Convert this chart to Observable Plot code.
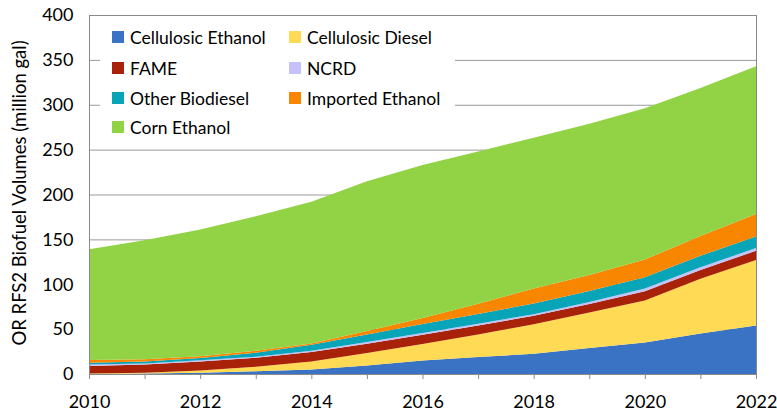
<!DOCTYPE html>
<html>
<head>
<meta charset="utf-8">
<script src="https://cdn.jsdelivr.net/npm/d3@7"></script>
<script src="https://cdn.jsdelivr.net/npm/@observablehq/plot@0.6"></script>
<style>
  html, body { margin: 0; padding: 0; background: #fff; }
  #wrap { position: relative; width: 777px; height: 415px; font-family: Lato, "Noto Sans", sans-serif; }
  #legend { position: absolute; left: 100px; top: 20px; width: 355px; height: 122px; background: #fff; }
  .item { position: absolute; height: 20px; display: flex; align-items: center; font-size: 17.5px; color: #000; white-space: nowrap; }
  .sw { width: 12px; height: 12px; margin-right: 6px; flex: none; }
</style>
</head>
<body>
<div id="wrap"></div>
<script>
const years = [2010, 2011, 2012, 2013, 2014, 2015, 2016, 2017, 2018, 2019, 2020, 2021, 2022];
const seriesNames = ["Cellulosic Ethanol", "Cellulosic Diesel", "FAME", "NCRD", "Other Biodiesel", "Imported Ethanol", "Corn Ethanol"];
const seriesColors = ["#3b73c4", "#ffda55", "#a8220a", "#c4c2f7", "#08a4b8", "#f88600", "#91d345"];

const cellulosicEthanol = [0, 0.5, 1.5, 3, 5, 9.5, 15, 19, 22.5, 29, 35, 45, 54];
const cellulosicDiesel  = [0.5, 1, 2.5, 5, 9, 14, 18.5, 25, 33, 39.5, 47, 61, 73];
const fame              = [8.5, 9, 10, 10, 10.5, 10.3, 10.3, 10, 9.3, 9.5, 10.3, 10, 10.3];
const ncrd              = [1.5, 1.2, 1.2, 1.3, 1.5, 1.8, 1.9, 1.9, 1.9, 2.2, 3, 3, 3];
const otherBiodiesel    = [2, 2.3, 2.5, 4.5, 6.5, 8.3, 10, 11, 11.8, 12.2, 12.6, 12.8, 13];
const importedEthanol   = [3, 2.5, 2.2, 2, 1.5, 4, 6.7, 11.5, 16.7, 18, 19.7, 22, 25];
const cornEthanol       = [123.5, 132.5, 141, 150, 158, 167, 170.6, 169.6, 168, 168.5, 168.4, 165, 164.7];

const xLabelYears = [2010, 2012, 2014, 2016, 2018, 2020, 2022];
const yTicks = [0, 50, 100, 150, 200, 250, 300, 350, 400];
const yTitle = "OR RFS2 Biofuel Volumes (million gal)";

const seriesValues = [cellulosicEthanol, cellulosicDiesel, fame, ncrd, otherBiodiesel, importedEthanol, cornEthanol];
const data = [];
seriesNames.forEach((name, i) => {
  years.forEach((yr, j) => data.push({ series: name, year: yr, value: seriesValues[i][j] }));
});

const font = "Lato, 'Noto Sans', sans-serif";
const chart = Plot.plot({
  width: 777,
  height: 415,
  marginLeft: 89,
  marginRight: 21,
  marginTop: 15,
  marginBottom: 41,
  style: { fontFamily: font, fontSize: "18px", color: "#000", background: "#fff" },
  x: { domain: [2010, 2022], label: null },
  y: { domain: [0, 400], label: null },
  color: { domain: seriesNames, range: seriesColors },
  marks: [
    Plot.gridY(yTicks, { stroke: "#9a9a9a", strokeOpacity: 1 }),
    Plot.areaY(data, { x: "year", y: "value", fill: "series", order: seriesNames }),
    Plot.frame({ stroke: "#8a8a8a" }),
    Plot.axisX({ ticks: years, tickSize: 5, tickFormat: () => "", stroke: "#8a8a8a", label: null }),
    Plot.axisX({ ticks: xLabelYears, tickSize: 0, tickPadding: 21, tickFormat: d => String(d), label: null, fontSize: 18 }),
    Plot.axisY({ ticks: yTicks, tickSize: 0, tickPadding: 16, label: null, fontSize: 18 })
  ]
});

const wrap = document.getElementById("wrap");
wrap.appendChild(chart);

d3.select(chart).append("text")
  .attr("transform", "translate(19,193) rotate(-90)")
  .attr("text-anchor", "middle")
  .attr("dominant-baseline", "central")
  .attr("font-family", font)
  .attr("font-size", 18.5)
  .attr("fill", "#000")
  .text(yTitle);

// legend overlay
const legend = document.createElement("div");
legend.id = "legend";
wrap.appendChild(legend);
const colX = [12, 189];
const rowY = [7, 38, 68, 97];
seriesNames.forEach((name, i) => {
  const it = document.createElement("div");
  it.className = "item";
  it.style.left = colX[i % 2] + "px";
  it.style.top = rowY[Math.floor(i / 2)] + "px";
  const sw = document.createElement("span");
  sw.className = "sw";
  sw.style.background = seriesColors[i];
  const tx = document.createElement("span");
  tx.textContent = name;
  it.appendChild(sw);
  it.appendChild(tx);
  legend.appendChild(it);
});
</script>
</body>
</html>
